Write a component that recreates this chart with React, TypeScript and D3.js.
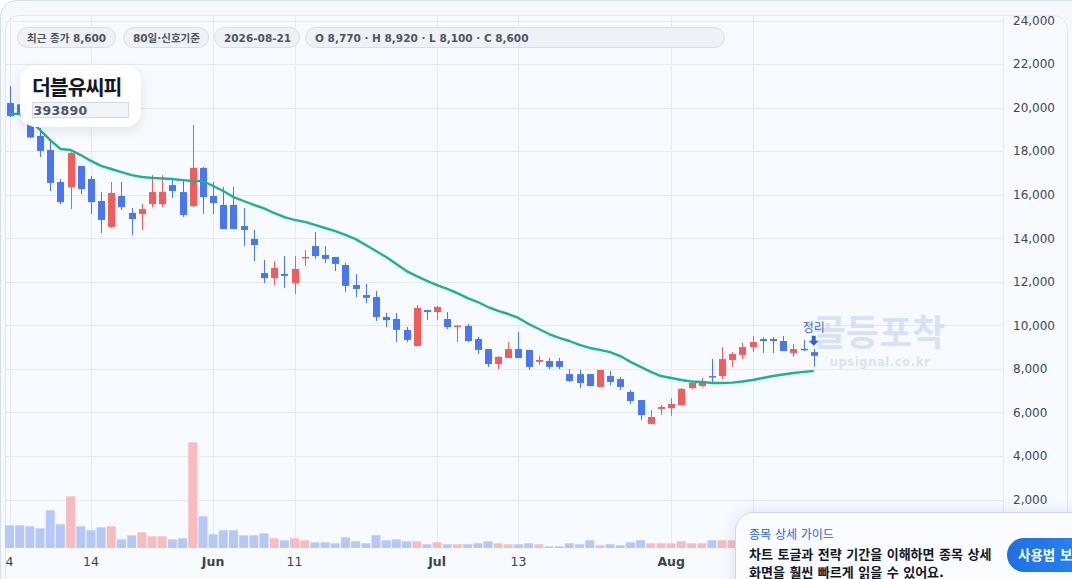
import React from 'react';
import * as d3 from 'd3';

// daily OHLC, 2026-05-04 .. 2026-08-21 (80 trading days)
const opens = [
  20210, 20150, 19300, 18700, 18050, 16580, 16350, 17320, 16720, 15710,
  14520, 15940, 15160, 15110, 15570, 15560, 16440, 16120, 15480, 17230,
  15940, 15530, 15530, 14560, 13970, 12400, 12170, 12360, 11940, 13090,
  13640, 13230, 13140, 12770, 11850, 11390, 11300, 10380, 10290, 9790,
  9050, 10700, 10610, 10290, 9950, 9970, 9370, 8910, 8220, 8500,
  8910, 8870, 8320, 8360, 8360, 7760, 7760, 7760, 7170, 7670,
  7530, 6940, 6570, 5470, 6160, 6200, 6340, 7120, 7210, 7670,
  7670, 8410, 8640, 9000, 9370, 9370, 9280, 8730, 8920, 8770,
];
const highs = [
  20990, 20300, 19600, 19060, 18510, 16720, 17960, 17320, 16860, 16120,
  16580, 16580, 15390, 15570, 16900, 16900, 16670, 16670, 19200, 17270,
  16580, 16350, 16350, 15390, 14380, 13000, 12950, 13180, 13180, 13460,
  14290, 13640, 13140, 12860, 12360, 11900, 11580, 10570, 10570, 9920,
  10930, 10700, 10890, 10610, 10010, 10060, 9460, 8910, 8590, 9230,
  9690, 8870, 8590, 8500, 8500, 7990, 7950, 7760, 7950, 7900,
  7630, 7030, 6570, 6110, 6340, 6660, 7120, 7440, 7580, 8450,
  9000, 8780, 9190, 9510, 9460, 9460, 9510, 9140, 9330, 8920,
];
const lows = [
  19570, 19600, 18600, 17730, 16170, 15570, 15340, 16030, 15110, 14240,
  14470, 15300, 14150, 14380, 15430, 15430, 15850, 14980, 15430, 15110,
  15110, 14420, 14420, 13640, 12950, 11940, 11850, 11710, 11440, 12720,
  13050, 12860, 12490, 11530, 11300, 11020, 10200, 9920, 9230, 9230,
  9050, 10240, 10240, 9830, 9230, 9230, 8680, 8090, 7990, 8500,
  8500, 7950, 8180, 7990, 7990, 7400, 7120, 7210, 7170, 7260,
  7030, 6390, 5650, 5470, 5880, 5840, 6340, 7080, 7170, 7350,
  7530, 8090, 8450, 8780, 8730, 8730, 8820, 8550, 8820, 8100,
];
const closes = [
  19610, 19660, 18630, 18010, 16540, 15660, 17910, 16260, 15660, 14840,
  16080, 15430, 14880, 15340, 16120, 16130, 16170, 15070, 17230, 15890,
  15620, 14420, 14420, 14380, 13690, 12170, 12630, 12270, 12590, 13140,
  13180, 13050, 12820, 11810, 11670, 11260, 10380, 10240, 9790, 9330,
  10800, 10610, 10840, 9920, 9990, 9280, 8870, 8220, 8550, 8910,
  8500, 8090, 8410, 8090, 8090, 7440, 7350, 7210, 7950, 7400,
  7170, 6520, 5880, 5790, 6250, 6390, 7080, 7350, 7440, 7630,
  8450, 8680, 9000, 9230, 9280, 9280, 8820, 8910, 8900, 8600,
];
const volumes = [
  227000, 227000, 217000, 197000, 377000, 237000, 517000, 217000, 177000, 207000,
  217000, 87000, 127000, 157000, 117000, 117000, 87000, 97000, 1057000, 317000,
  137000, 177000, 177000, 127000, 127000, 147000, 97000, 77000, 97000, 77000,
  57000, 57000, 47000, 107000, 67000, 47000, 127000, 77000, 87000, 67000,
  67000, 37000, 57000, 37000, 37000, 37000, 47000, 67000, 47000, 37000,
  37000, 47000, 37000, 17000, 17000, 47000, 37000, 77000, 27000, 37000,
  27000, 57000, 77000, 47000, 47000, 47000, 67000, 47000, 47000, 77000,
  77000, 77000, 80000, 70000, 60000, 60000, 50000, 40000, 40000, 60000,
];
const ma20 = [
  19710, 19710, 19430, 18970, 18510, 18100, 18050, 17820, 17550, 17320,
  17180, 17040, 16900, 16810, 16770, 16740, 16720, 16670, 16630, 16630,
  16400, 16170, 15890, 15710, 15530, 15370, 15160, 14970, 14840, 14750,
  14610, 14470, 14330, 14150, 13960, 13690, 13410, 13140, 12820, 12490,
  12260, 12040, 11850, 11670, 11480, 11250, 11070, 10840, 10660, 10520,
  10340, 10060, 9830, 9600, 9420, 9280, 9100, 8960, 8870, 8770,
  8590, 8320, 8090, 7860, 7670, 7580, 7490, 7420, 7400, 7350,
  7350, 7370, 7420, 7490, 7580, 7670, 7740, 7810, 7860, 7900,
];

const priceTicks = [24000, 22000, 20000, 18000, 16000, 14000, 12000, 10000, 8000, 6000, 4000, 2000];
const timeTicks = [
  { index: 0, label: '4', month: false },
  { index: 8, label: '14', month: false },
  { index: 20, label: 'Jun', month: true },
  { index: 28, label: '11', month: false },
  { index: 42, label: 'Jul', month: true },
  { index: 50, label: '13', month: false },
  { index: 65, label: 'Aug', month: true },
  { index: 73, label: '13', month: false },
];
const chipTexts = ['최근 종가 8,600', '80일·신호기준', '2026-08-21', 'O 8,770 · H 8,920 · L 8,100 · C 8,600'];
const stockName = '더블유씨피';
const stockCode = '393890';
const markerText = '정리';

const FONT = "'DejaVu Sans', 'Noto Sans CJK KR', sans-serif";
const UP = '#f65b5b';
const DOWN = '#4777f5';
const UP_VOL = '#f8bcbf';
const DOWN_VOL = '#b6c8f8';

export default function App() {
  const width = 1072;
  const height = 579;

  const x = d3.scaleLinear().domain([0, opens.length - 1]).range([9.5, 813.7]);
  const y = d3.scaleLinear().domain([2000, 24000]).range([499.5, 20.5]);
  const yVol = d3.scaleLinear().domain([0, d3.max(volumes) || 1]).range([548, 442.3]);

  const maLine = d3.line<number>()
    .x((_, i) => x(i))
    .y(d => y(d));

  const chipX = [17, 123, 214, 305];
  const chipW = [98, 85, 85, 419];

  const last = opens.length - 1;
  const mx = x(last);
  const my = y(highs[last]);

  return (
    <svg
      width={width}
      height={height}
      style={{ position: 'absolute', left: 0, top: 0, fontFamily: FONT }}
    >
      <defs>
        <clipPath id="plot">
          <rect x={5} y={15} width={998} height={533} />
        </clipPath>
        <filter id="cardShadow" x="-30%" y="-40%" width="160%" height="190%">
          <feDropShadow dx="0" dy="4" stdDeviation="6" floodColor="#1e293b" floodOpacity="0.1" />
        </filter>
        <filter id="popShadow" x="-20%" y="-60%" width="140%" height="220%">
          <feDropShadow dx="0" dy="2" stdDeviation="8" floodColor="#1e3a8a" floodOpacity="0.12" />
        </filter>
        <linearGradient id="btnGrad" x1="0" y1="0" x2="1" y2="0">
          <stop offset="0%" stopColor="#1e6fe6" />
          <stop offset="100%" stopColor="#2b8df2" />
        </linearGradient>
      </defs>

      <rect x={0} y={0} width={width} height={height} fill="#ffffff" />
      <rect x={0.5} y={0.5} width={width + 30} height={height + 40} rx={16} fill="#f5f8fd" stroke="#d7dfeb" />
      <rect x={5.5} y={15.5} width={1062} height={height + 40} rx={14} fill="#f7faff" stroke="#e2e7ef" />

      {/* grid */}
      <g stroke="#e5e9f0" strokeWidth={1}>
        {priceTicks.map(t => (
          <line key={t} x1={6} x2={1003} y1={Math.round(y(t)) + 0.5} y2={Math.round(y(t)) + 0.5} />
        ))}
        {timeTicks.map(t => (
          <line key={t.index} x1={Math.round(x(t.index)) + 0.5} x2={Math.round(x(t.index)) + 0.5} y1={16} y2={548} />
        ))}
        <line x1={1003.5} x2={1003.5} y1={16} y2={548} />
      </g>

      {/* price axis */}
      <g fontSize={12} fill="#3f4654">
        {priceTicks.map(t => (
          <text key={t} x={1013} y={y(t) + 4.3}>{d3.format(',')(t)}</text>
        ))}
      </g>

      <g clipPath="url(#plot)">
        {/* volume */}
        {volumes.map((v, i) => (
          <rect
            key={i}
            x={x(i) - 4.5}
            y={yVol(v)}
            width={9}
            height={548 - yVol(v)}
            fill={closes[i] >= opens[i] ? UP_VOL : DOWN_VOL}
          />
        ))}

        {/* candles */}
        {opens.map((o, i) => {
          const c = closes[i];
          const col = c >= o ? UP : DOWN;
          const top = y(Math.max(o, c));
          const h = Math.max(1.5, Math.abs(y(o) - y(c)));
          const cx = Math.round(x(i));
          return (
            <g key={i}>
              <line x1={cx + 0.5} x2={cx + 0.5} y1={y(highs[i])} y2={y(lows[i])} stroke={col} strokeWidth={1} />
              <rect x={cx - 3} y={top} width={7} height={h} fill={col} />
            </g>
          );
        })}

        {/* moving average */}
        <path d={maLine(ma20) || ''} fill="none" stroke="#1cb199" strokeWidth={2.4} strokeLinejoin="round" />
      </g>

      {/* watermark */}
      <g textAnchor="middle" fill="#c9d8f6" fillOpacity={0.7}>
        <text x={879} y={346} fontSize={36} fontWeight={700}>골등포착</text>
        <text x={880} y={366} fontSize={11.5} fontWeight={700} letterSpacing={0.6}>upsignal.co.kr</text>
      </g>

      {/* marker */}
      <g fill="#2f5fd6">
        <text x={mx} y={332} textAnchor="middle" fontSize={12} fill="#3d6bd9">{markerText}</text>
        <path d={`M${mx - 2},${my - 13} h4 v5 h3 l-5,5 l-5,-5 h3 z`} />
      </g>

      {/* time axis */}
      <g fontSize={12.5} fill="#3a4352" textAnchor="middle">
        {timeTicks.map(t => (
          <text key={t.index} x={x(t.index)} y={566} fontWeight={t.month ? 700 : 400}>{t.label}</text>
        ))}
      </g>

      {/* chips */}
      {chipTexts.map((t, i) => (
        <g key={t}>
          <rect x={chipX[i] + 0.5} y={27.5} width={chipW[i]} height={20} rx={10} fill="#eef1f6" stroke="#d9dee6" />
          <text x={chipX[i] + 10} y={41.5} fontSize={10.5} fontWeight={700} fill="#4b5565">{t}</text>
        </g>
      ))}

      {/* stock card */}
      <rect x={20} y={65} width={121} height={62} rx={16} fill="#ffffff" filter="url(#cardShadow)" />
      <text x={32} y={95} fontSize={20.5} fontWeight={700} fill="#111827" letterSpacing={-1}>{stockName}</text>
      <rect x={32.5} y={102.5} width={96} height={15} fill="#f1f4f8" stroke="#d3d9e2" />
      <text x={33.5} y={115} fontSize={12.5} fontWeight={700} fill="#4b5563" letterSpacing={0.3}>{stockCode}</text>

      {/* guide popup */}
      <rect x={735.5} y={512.5} width={360} height={100} rx={18} fill="#fbfcff" stroke="#c8d8f6" filter="url(#popShadow)" />
      <text x={749} y={539} fontSize={12} fill="#2563eb">종목 상세 가이드</text>
      <text x={749} y={559} fontSize={13} fontWeight={700} fill="#111827">차트 토글과 전략 기간을 이해하면 종목 상세</text>
      <text x={749} y={577} fontSize={13} fontWeight={700} fill="#111827">화면을 훨씬 빠르게 읽을 수 있어요.</text>
      <rect x={1007} y={538} width={110} height={34} rx={17} fill="url(#btnGrad)" />
      <text x={1018} y={560} fontSize={13.5} fontWeight={700} fill="#ffffff">사용법 보기</text>
    </svg>
  );
}
